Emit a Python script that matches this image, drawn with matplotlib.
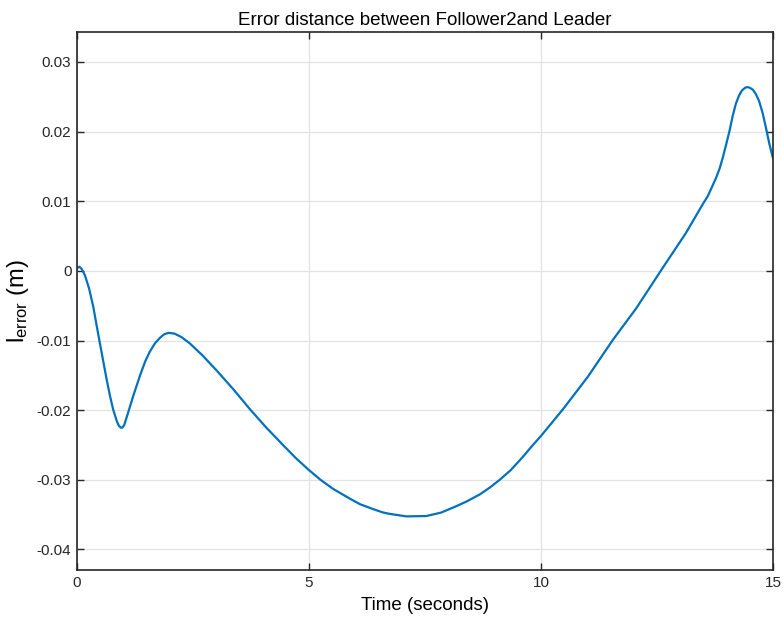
import numpy as np
import matplotlib
matplotlib.use('Agg')
import matplotlib.pyplot as plt

# values (time in s, error in m)
t = [0.0, 0.05, 0.1, 0.17, 0.26, 0.35, 0.42, 0.5, 0.57, 0.64, 0.71, 0.78, 0.86, 0.9,
     0.94, 0.98, 1.02, 1.1, 1.22, 1.36, 1.47, 1.57, 1.68, 1.79, 1.88, 1.97, 2.1, 2.25,
     2.43, 2.7, 3.01, 3.37, 3.72, 4.08, 4.44, 4.72, 5.0, 5.25, 5.52, 5.7, 5.88, 6.1,
     6.38, 6.6, 6.75, 7.1, 7.53, 7.85, 8.17, 8.4, 8.68, 8.9, 9.11, 9.35, 9.61, 9.8, 10.0,
     10.47, 11.01, 11.55, 12.05, 12.62, 13.12, 13.48, 13.6, 13.77, 13.85, 13.92, 14.0,
     14.06, 14.13, 14.2, 14.27, 14.33, 14.4, 14.45, 14.5, 14.57, 14.63, 14.7, 14.78,
     14.85, 14.92, 15.0]
err = [0.0004, 0.0006, 0.0003, -0.0006, -0.0025, -0.0051, -0.0077, -0.0106, -0.0131,
       -0.0156, -0.0179, -0.0199, -0.0216, -0.0222, -0.0225, -0.0225, -0.0221, -0.0204,
       -0.0178, -0.0150, -0.0130, -0.0116, -0.0104, -0.0096, -0.0091, -0.0089, -0.0090,
       -0.0095, -0.0104, -0.0121, -0.0143, -0.0170, -0.0198, -0.0225, -0.0250, -0.0269,
       -0.0286, -0.0300, -0.0313, -0.0320, -0.0327, -0.0335, -0.0342, -0.0347, -0.0349,
       -0.03525, -0.0352, -0.0347, -0.0338, -0.0331, -0.0321, -0.0311, -0.0300, -0.0286,
       -0.0267, -0.0252, -0.0237, -0.0199, -0.0152, -0.0099, -0.0054, 0.0004, 0.0054,
       0.0095, 0.0108, 0.0133, 0.0147, 0.0163, 0.0184, 0.0200, 0.0222, 0.0240, 0.0252,
       0.0259, 0.0263, 0.0264, 0.0263, 0.0260, 0.0254, 0.0244, 0.0226, 0.0205, 0.0183,
       0.0162]

xticks = [0, 5, 10, 15]
yticks = [-0.04, -0.03, -0.02, -0.01, 0, 0.01, 0.02, 0.03]
yticklabels = ['-0.04', '-0.03', '-0.02', '-0.01', '0', '0.01', '0.02', '0.03']

plt.rcParams['font.family'] = ['Liberation Sans', 'DejaVu Sans']

fig = plt.figure(figsize=(7.83, 6.23), dpi=100)
ax = fig.add_axes([0.0983, 0.0845, 0.8889, 0.8641])

ax.plot(t, err, color='#0072BD', lw=1.6)

ax.set_xlim(0, 15)
ax.set_ylim(-0.0430, 0.0343)
ax.set_xticks(xticks)
ax.set_yticks(yticks)
ax.set_yticklabels(yticklabels)
ax.grid(True, color='#e3e3e3', lw=0.9)
ax.set_axisbelow(True)

ax.tick_params(direction='in', top=True, right=True, length=5, width=1,
               labelsize=11, colors='#262626', pad=4)
for s in ax.spines.values():
    s.set_color('#262626')
    s.set_linewidth(1.2)

ax.set_title('Error distance between Follower2and Leader', fontsize=13.5, pad=5)
ax.set_xlabel('Time (seconds)', fontsize=13.5, labelpad=5)
ax.set_ylabel(r'$\mathregular{l_{error}}$ (m)', fontsize=17, labelpad=4)

fig.savefig('out.png', dpi=100)
